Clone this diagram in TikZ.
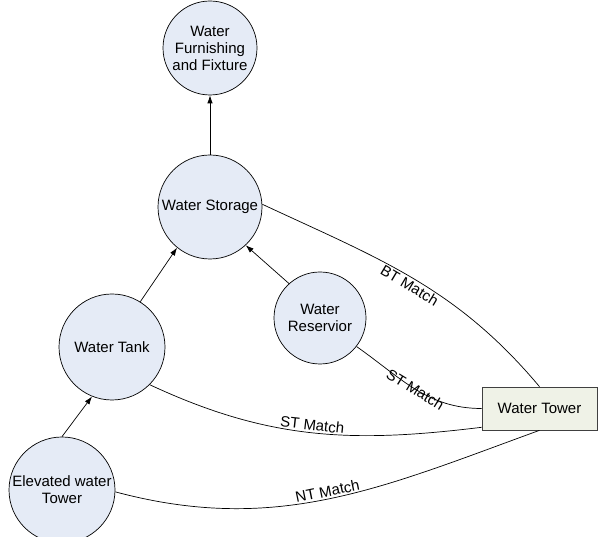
\documentclass[tikz,border=0pt]{standalone}
\usepackage{fontspec}
\setmainfont{Liberation Sans}
\usepackage{xcolor}
\usetikzlibrary{arrows.meta, positioning, calc}

\definecolor{conceptfill}{RGB}{229,235,246}
\definecolor{towerfill}{RGB}{239,242,231}

\begin{document}
\begin{tikzpicture}[x=1pt, y=1pt, >={Latex[length=8pt,width=5.5pt]}, line width=0.7pt,
    concept/.style={circle, draw, fill=conceptfill, inner sep=0pt, align=center,
        font=\fontsize{15}{17}\selectfont},
    match/.style={font=\fontsize{15}{17}\selectfont, sloped, inner sep=2pt}]

\useasboundingbox (0,0) rectangle (598,537);

% Concept circles
\node[concept, minimum size=94pt] (furnish) at (210,489) {Water\\Furnishing\\and Fixture};
\node[concept, minimum size=104pt] (storage) at (210,330) {Water Storage};
\node[concept, minimum size=106pt] (tank) at (112,190) {Water Tank};
\node[concept, minimum size=92pt] (reservoir) at (320,219) {Water\\Reservior};
\node[concept, minimum size=106pt] (elevated) at (62,47) {Elevated water\\Tower};

% Matched term
\node[draw=black!75, fill=towerfill, minimum width=115pt, minimum height=43pt, inner sep=0pt,
    font=\fontsize{15}{17}\selectfont] (tower) at (539.5,128.5) {Water Tower};

% Hierarchy arrows
\draw[->] (elevated.north) -- (tank.248);
\draw[->] (tank.58) -- (storage.231);
\draw[->] (reservoir.132) -- (storage.313);
\draw[->] (storage) -- (furnish);

% Match edges
\draw (storage.3) to[out=-25, in=130]
    node[match, below] (btmatch) {BT Match} (tower.north);
\draw (reservoir.-38) to[out=-35, in=180]
    node[match] (stmatchres) {ST Match} (tower.west);
\draw (tank.-45) to[out=-25, in=187]
    node[match, above] (stmatchtank) {ST Match} (tower.198);
\draw (elevated.-2) to[out=-15, in=200]
    node[match, above] (ntmatch) {NT Match} (tower.south);

\end{tikzpicture}
\end{document}
